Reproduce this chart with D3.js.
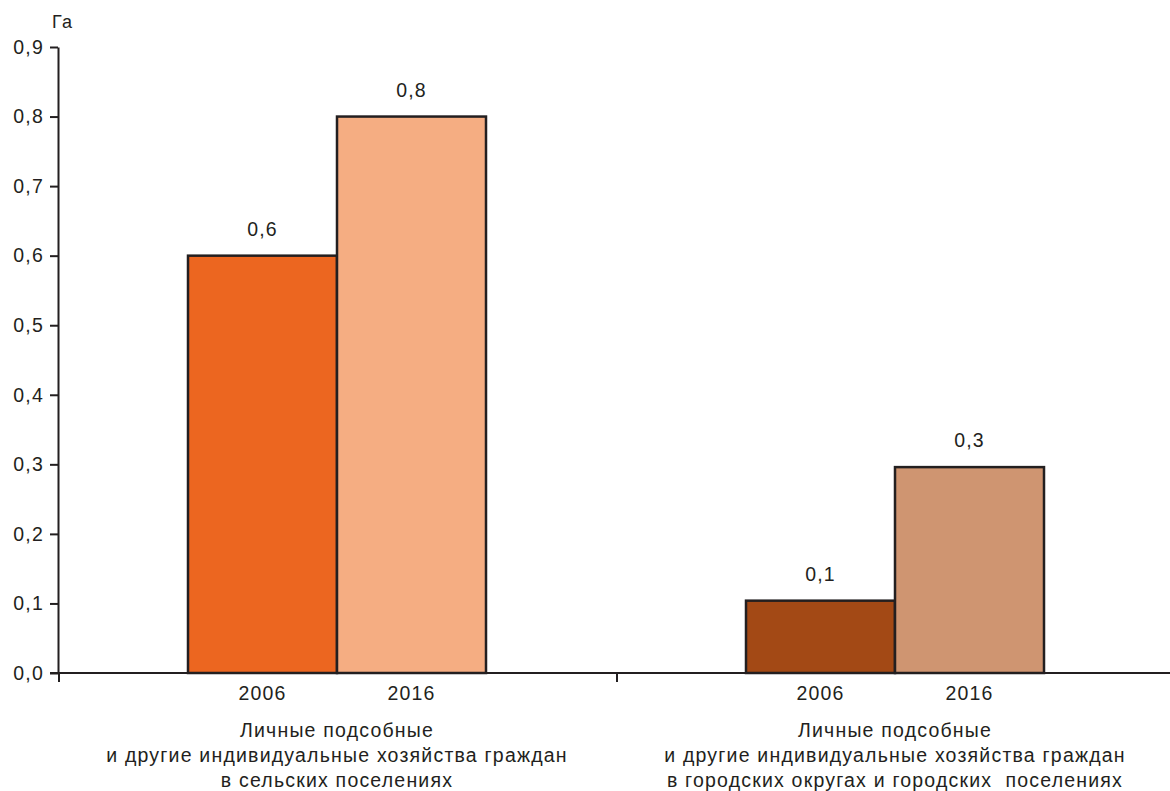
<!DOCTYPE html>
<html>
<head>
<meta charset="utf-8">
<script src="https://cdn.jsdelivr.net/npm/d3@7"></script>
<style>
body { margin: 0; background: #fff; }
text { font-family: "Liberation Sans", Arial, sans-serif; fill: #231f20; letter-spacing: 1.2px; }
</style>
</head>
<body>
<svg id="canvas"></svg>
<script>
// data
let groups = [
	['Личные подсобные', 'и другие индивидуальные хозяйства граждан', 'в сельских поселениях'],
	['Личные подсобные', 'и другие индивидуальные хозяйства граждан', 'в городских округах и городских  поселениях']
];
let years = ['2006', '2016'];
let values = [
	[0.6, 0.8],
	[0.104, 0.296]
];
let barColors = [
	['#ec6620', '#f5ad82'],
	['#a34915', '#cf9571']
];
let yTicks = [0, 0.1, 0.2, 0.3, 0.4, 0.5, 0.6, 0.7, 0.8, 0.9];
let unit = 'Га';

let width = 1170;
let height = 791;
let padLeft = 58;
let padRight = 1174;
let padTop = 47;
let padBottom = 673;
let barW = 149;
let fontSize = 19.5;
let ink = '#231f20';

let fmt = (v) => d3.format('.1f')(v).replace('.', ',');

let svg = d3.select('#canvas')
	.attr('width', width)
	.attr('height', height);

let xScale = d3.scaleBand()
	.domain(d3.range(groups.length))
	.range([padLeft, padRight])
	.padding(0);

let yScale = d3.scaleLinear()
	.domain([0, 0.9])
	.range([padBottom, padTop]);

let rows = [];
values.forEach((arr, g) => {
	arr.forEach((v, i) => {
		rows.push({ g: g, i: i, v: v, year: years[i], color: barColors[g][i] });
	});
});

let barX = (d) => xScale(d.g) + xScale.bandwidth() / 2 + (d.i - 1) * barW;

// bars
svg.selectAll('rect.bar')
	.data(rows)
	.enter()
	.append('rect')
	.attr('class', 'bar')
	.attr('x', barX)
	.attr('y', (d) => yScale(d.v))
	.attr('width', barW)
	.attr('height', (d) => padBottom - yScale(d.v))
	.attr('fill', (d) => d.color)
	.attr('stroke', ink)
	.attr('stroke-width', 2.5);

// value labels
svg.selectAll('text.val')
	.data(rows)
	.enter()
	.append('text')
	.attr('class', 'val')
	.attr('x', (d) => barX(d) + barW / 2)
	.attr('y', (d) => yScale(d.v) - 20)
	.attr('text-anchor', 'middle')
	.attr('font-size', fontSize)
	.text((d) => fmt(d.v));

// year labels
svg.selectAll('text.year')
	.data(rows)
	.enter()
	.append('text')
	.attr('class', 'year')
	.attr('x', (d) => barX(d) + barW / 2)
	.attr('y', padBottom + 27)
	.attr('text-anchor', 'middle')
	.attr('font-size', fontSize)
	.text((d) => d.year);

// group labels
groups.forEach((lines, g) => {
	let t = svg.append('text')
		.attr('text-anchor', 'middle')
		.attr('font-size', fontSize)
		.attr('x', xScale(g) + xScale.bandwidth() / 2)
		.attr('y', padBottom + 64);
	lines.forEach((line, k) => {
		t.append('tspan')
			.attr('x', xScale(g) + xScale.bandwidth() / 2)
			.attr('dy', k === 0 ? 0 : 25)
			.style('white-space', 'pre')
			.text(line);
	});
});

// y axis
let yAxis = d3.axisLeft(yScale)
	.tickValues(yTicks)
	.tickFormat(fmt)
	.tickSize(8)
	.tickSizeOuter(0)
	.tickPadding(6);

let gy = svg.append('g')
	.attr('id', 'y-axis')
	.attr('transform', `translate(${padLeft}, 0)`)
	.call(yAxis);
gy.select('.domain').attr('stroke', ink).attr('stroke-width', 2);
gy.selectAll('.tick line').attr('stroke', ink).attr('stroke-width', 2);
gy.selectAll('.tick text')
	.attr('font-size', fontSize)
	.attr('font-family', '"Liberation Sans", Arial, sans-serif')
	.attr('fill', ink);

// x axis with ticks at band edges
let gx = svg.append('g').attr('id', 'x-axis');
gx.append('line')
	.attr('x1', padLeft - 8)
	.attr('x2', padRight)
	.attr('y1', padBottom)
	.attr('y2', padBottom)
	.attr('stroke', ink)
	.attr('stroke-width', 2);
gx.selectAll('line.tick')
	.data(d3.range(groups.length))
	.enter()
	.append('line')
	.attr('class', 'tick')
	.attr('x1', (g) => xScale(g) + 1)
	.attr('x2', (g) => xScale(g) + 1)
	.attr('y1', padBottom)
	.attr('y2', padBottom + 9)
	.attr('stroke', ink)
	.attr('stroke-width', 2);

svg.append('text')
	.attr('x', 52)
	.attr('y', 28)
	.attr('font-size', 18)
	.text(unit);
</script>
</body>
</html>
